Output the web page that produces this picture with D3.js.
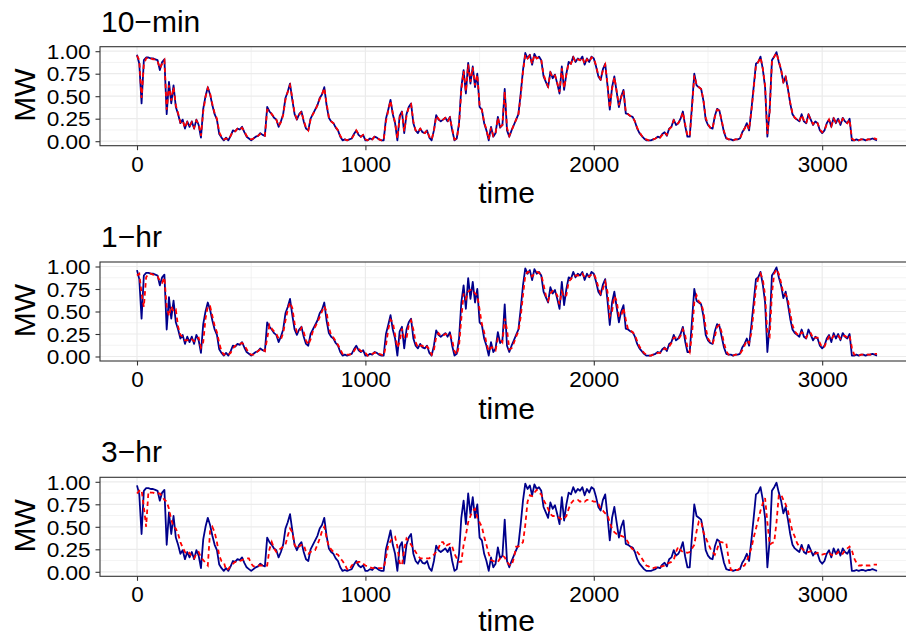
<!DOCTYPE html>
<html>
<head>
<meta charset="utf-8">
<script src="https://cdn.jsdelivr.net/npm/d3@7"></script>
<style>
  body { margin: 0; background: #fff; }
  svg { display: block; }
  text { font-family: "Liberation Sans", Arial, sans-serif; fill: #000; }
</style>
</head>
<body>
<svg width="906" height="637"></svg>
<script>
// power readings, sampled every 10 time steps off the picture
const step = 10;

const actual = [
  0.96,0.86,0.42,0.90,0.93,0.93,0.92,0.92,0.91,0.90,
  0.79,0.88,0.91,0.30,0.66,0.42,0.62,0.38,0.30,0.20,
  0.24,0.14,0.22,0.16,0.22,0.14,0.24,0.18,0.04,0.36,
  0.50,0.60,0.52,0.40,0.30,0.24,0.08,0.04,0.01,0.04,
  0.01,0.06,0.12,0.11,0.14,0.13,0.16,0.10,0.05,0.03,
  0.01,0.03,0.05,0.06,0.09,0.07,0.06,0.38,0.33,0.30,
  0.26,0.24,0.16,0.22,0.30,0.48,0.55,0.64,0.46,0.30,
  0.24,0.30,0.33,0.22,0.14,0.12,0.25,0.30,0.35,0.40,
  0.48,0.52,0.60,0.40,0.26,0.22,0.20,0.15,0.12,0.05,
  0.01,0.02,0.01,0.02,0.03,0.08,0.12,0.07,0.05,0.07,
  0.01,0.01,0.03,0.02,0.05,0.04,0.02,0.01,0.01,0.25,
  0.35,0.46,0.30,0.20,0.01,0.28,0.33,0.09,0.30,0.38,
  0.42,0.20,0.12,0.09,0.14,0.10,0.09,0.12,0.04,0.01,
  0.12,0.29,0.24,0.22,0.24,0.26,0.22,0.27,0.12,0.01,
  0.03,0.20,0.60,0.79,0.53,0.87,0.64,0.83,0.60,0.75,
  0.38,0.35,0.20,0.12,0.01,0.16,0.05,0.09,0.27,0.15,
  0.18,0.58,0.12,0.05,0.12,0.18,0.24,0.30,0.53,0.79,
  0.98,0.92,0.96,0.85,0.97,0.92,0.94,0.90,0.72,0.66,
  0.60,0.77,0.70,0.74,0.64,0.53,0.83,0.57,0.75,0.88,
  0.86,0.94,0.88,0.92,0.90,0.94,0.85,0.92,0.88,0.94,
  0.92,0.83,0.72,0.68,0.80,0.86,0.62,0.35,0.60,0.72,
  0.55,0.38,0.50,0.57,0.31,0.30,0.28,0.27,0.22,0.14,
  0.09,0.06,0.03,0.01,0.01,0.01,0.02,0.03,0.05,0.04,
  0.08,0.10,0.06,0.14,0.16,0.24,0.18,0.20,0.25,0.33,
  0.17,0.05,0.05,0.40,0.75,0.62,0.60,0.58,0.45,0.24,
  0.18,0.15,0.14,0.28,0.36,0.34,0.22,0.10,0.03,0.02,
  0.02,0.01,0.02,0.02,0.03,0.10,0.14,0.20,0.12,0.35,
  0.60,0.86,0.88,0.94,0.80,0.60,0.05,0.35,0.90,0.94,
  0.99,0.88,0.79,0.65,0.72,0.58,0.42,0.30,0.26,0.24,
  0.22,0.30,0.22,0.20,0.30,0.24,0.18,0.22,0.20,0.12,
  0.09,0.12,0.20,0.24,0.16,0.26,0.20,0.25,0.18,0.26,
  0.22,0.20,0.25,0.01,0.01,0.02,0.01,0.02,0.02,0.01,
  0.02,0.02,0.03,0.02,0.01
];

const fc10min = [
  0.95,0.90,0.48,0.85,0.92,0.93,0.92,0.91,0.91,0.89,
  0.81,0.86,0.90,0.35,0.62,0.45,0.60,0.40,0.31,0.21,
  0.23,0.15,0.21,0.17,0.21,0.15,0.23,0.19,0.06,0.33,
  0.49,0.59,0.53,0.41,0.31,0.25,0.10,0.05,0.02,0.03,
  0.02,0.06,0.11,0.11,0.14,0.13,0.15,0.11,0.06,0.03,
  0.02,0.03,0.05,0.06,0.08,0.07,0.06,0.35,0.34,0.30,
  0.27,0.24,0.17,0.21,0.29,0.46,0.55,0.62,0.48,0.31,
  0.25,0.29,0.33,0.23,0.15,0.12,0.24,0.30,0.34,0.40,
  0.47,0.52,0.59,0.42,0.27,0.22,0.20,0.16,0.12,0.06,
  0.02,0.02,0.01,0.02,0.03,0.07,0.12,0.08,0.05,0.07,
  0.02,0.01,0.03,0.02,0.05,0.04,0.02,0.01,0.01,0.22,
  0.34,0.45,0.31,0.21,0.03,0.26,0.33,0.11,0.28,0.38,
  0.41,0.22,0.12,0.10,0.14,0.10,0.09,0.12,0.05,0.02,
  0.11,0.28,0.25,0.22,0.24,0.26,0.22,0.26,0.14,0.02,
  0.03,0.18,0.56,0.78,0.55,0.85,0.66,0.82,0.62,0.74,
  0.40,0.35,0.21,0.13,0.02,0.15,0.06,0.09,0.26,0.16,
  0.18,0.55,0.15,0.06,0.12,0.18,0.24,0.30,0.50,0.77,
  0.96,0.92,0.95,0.86,0.96,0.92,0.93,0.90,0.74,0.67,
  0.61,0.76,0.71,0.73,0.65,0.55,0.81,0.59,0.74,0.87,
  0.86,0.93,0.88,0.91,0.90,0.93,0.86,0.91,0.88,0.93,
  0.92,0.84,0.73,0.69,0.79,0.85,0.64,0.37,0.58,0.71,
  0.56,0.40,0.49,0.56,0.33,0.30,0.28,0.27,0.22,0.15,
  0.10,0.06,0.03,0.02,0.01,0.01,0.02,0.03,0.05,0.04,
  0.07,0.10,0.07,0.13,0.16,0.23,0.19,0.20,0.24,0.32,
  0.19,0.06,0.06,0.36,0.73,0.63,0.60,0.58,0.46,0.26,
  0.19,0.15,0.14,0.27,0.35,0.34,0.23,0.11,0.04,0.02,
  0.02,0.01,0.02,0.02,0.03,0.09,0.14,0.19,0.13,0.33,
  0.58,0.84,0.88,0.93,0.81,0.62,0.08,0.32,0.88,0.94,
  0.98,0.89,0.80,0.66,0.71,0.59,0.43,0.31,0.26,0.24,
  0.22,0.29,0.23,0.20,0.29,0.24,0.19,0.22,0.20,0.13,
  0.10,0.12,0.19,0.24,0.17,0.25,0.21,0.24,0.19,0.25,
  0.22,0.20,0.24,0.03,0.01,0.02,0.01,0.02,0.02,0.01,
  0.02,0.02,0.03,0.03,0.02
];

const fc1hr = [
  0.90,0.92,0.70,0.55,0.88,0.92,0.92,0.91,0.90,0.89,
  0.84,0.82,0.88,0.55,0.45,0.56,0.50,0.52,0.33,0.24,
  0.22,0.18,0.18,0.20,0.19,0.17,0.20,0.21,0.10,0.16,
  0.42,0.56,0.56,0.45,0.34,0.27,0.15,0.06,0.02,0.03,
  0.02,0.04,0.09,0.12,0.13,0.14,0.15,0.13,0.08,0.04,
  0.02,0.02,0.04,0.06,0.08,0.08,0.06,0.20,0.35,0.31,
  0.28,0.25,0.20,0.19,0.26,0.40,0.52,0.60,0.54,0.37,
  0.27,0.27,0.32,0.27,0.18,0.13,0.19,0.28,0.33,0.38,
  0.44,0.50,0.56,0.50,0.32,0.24,0.21,0.17,0.13,0.08,
  0.03,0.02,0.02,0.02,0.03,0.06,0.10,0.09,0.06,0.06,
  0.04,0.01,0.02,0.03,0.04,0.05,0.03,0.02,0.01,0.12,
  0.30,0.41,0.38,0.24,0.10,0.16,0.31,0.20,0.20,0.35,
  0.40,0.30,0.16,0.10,0.12,0.12,0.09,0.11,0.08,0.02,
  0.07,0.22,0.26,0.23,0.23,0.25,0.24,0.25,0.18,0.06,
  0.02,0.12,0.42,0.70,0.64,0.72,0.74,0.74,0.70,0.68,
  0.52,0.36,0.27,0.15,0.06,0.10,0.10,0.07,0.20,0.20,
  0.16,0.42,0.30,0.08,0.09,0.15,0.22,0.28,0.44,0.68,
  0.90,0.94,0.94,0.89,0.92,0.94,0.93,0.91,0.80,0.68,
  0.62,0.70,0.73,0.72,0.68,0.58,0.72,0.66,0.68,0.83,
  0.86,0.90,0.90,0.90,0.90,0.92,0.88,0.89,0.89,0.91,
  0.92,0.86,0.77,0.70,0.75,0.83,0.72,0.45,0.50,0.67,
  0.62,0.45,0.45,0.54,0.41,0.30,0.29,0.27,0.24,0.17,
  0.11,0.07,0.04,0.02,0.01,0.01,0.02,0.03,0.04,0.04,
  0.06,0.09,0.08,0.11,0.15,0.21,0.21,0.19,0.23,0.30,
  0.24,0.10,0.05,0.24,0.60,0.68,0.61,0.59,0.50,0.32,
  0.20,0.16,0.14,0.22,0.33,0.35,0.27,0.15,0.06,0.02,
  0.02,0.01,0.02,0.02,0.03,0.07,0.12,0.18,0.15,0.26,
  0.50,0.76,0.87,0.92,0.86,0.68,0.25,0.22,0.70,0.92,
  0.97,0.92,0.82,0.70,0.69,0.63,0.48,0.35,0.28,0.25,
  0.23,0.27,0.25,0.21,0.26,0.26,0.20,0.21,0.21,0.15,
  0.10,0.11,0.17,0.22,0.19,0.23,0.22,0.23,0.20,0.23,
  0.23,0.21,0.23,0.10,0.02,0.02,0.01,0.02,0.02,0.02,
  0.02,0.02,0.03,0.03,0.03
];

const fc3hr = [
  0.87,0.90,0.91,0.72,0.50,0.89,0.88,0.88,0.87,0.87,
  0.87,0.84,0.80,0.78,0.70,0.58,0.50,0.48,0.42,0.33,
  0.27,0.22,0.19,0.21,0.17,0.15,0.20,0.22,0.16,0.13,
  0.10,0.07,0.45,0.50,0.44,0.33,0.18,0.12,0.11,0.02,
  0.03,0.07,0.09,0.11,0.11,0.12,0.13,0.14,0.15,0.15,
  0.09,0.06,0.06,0.07,0.07,0.07,0.07,0.07,0.25,0.33,
  0.26,0.22,0.24,0.26,0.28,0.30,0.40,0.48,0.44,0.30,
  0.26,0.28,0.30,0.30,0.22,0.20,0.22,0.24,0.24,0.30,
  0.37,0.45,0.50,0.38,0.28,0.25,0.22,0.20,0.19,0.15,
  0.12,0.08,0.03,0.02,0.07,0.09,0.10,0.11,0.11,0.09,
  0.07,0.06,0.05,0.04,0.04,0.04,0.04,0.04,0.04,0.15,
  0.30,0.34,0.38,0.39,0.28,0.10,0.07,0.25,0.37,0.34,
  0.30,0.26,0.22,0.18,0.15,0.15,0.15,0.15,0.15,0.17,
  0.19,0.22,0.26,0.33,0.33,0.28,0.30,0.31,0.28,0.20,
  0.15,0.11,0.11,0.30,0.41,0.55,0.62,0.68,0.70,0.60,
  0.55,0.50,0.39,0.30,0.20,0.13,0.12,0.11,0.11,0.15,
  0.18,0.16,0.11,0.08,0.07,0.15,0.28,0.28,0.30,0.33,
  0.52,0.78,0.85,0.84,0.88,0.91,0.88,0.86,0.80,0.75,
  0.70,0.64,0.62,0.62,0.61,0.60,0.58,0.59,0.62,0.70,
  0.76,0.79,0.80,0.80,0.78,0.79,0.78,0.80,0.80,0.79,
  0.78,0.78,0.76,0.70,0.68,0.65,0.63,0.55,0.48,0.44,
  0.42,0.41,0.40,0.39,0.37,0.33,0.28,0.25,0.24,0.22,
  0.19,0.15,0.11,0.07,0.06,0.04,0.04,0.05,0.05,0.06,
  0.06,0.07,0.09,0.10,0.11,0.13,0.22,0.28,0.24,0.22,
  0.22,0.21,0.22,0.26,0.30,0.45,0.56,0.56,0.44,0.38,
  0.32,0.26,0.22,0.19,0.25,0.33,0.33,0.32,0.32,0.15,
  0.02,0.02,0.02,0.02,0.04,0.06,0.07,0.12,0.20,0.26,
  0.38,0.48,0.58,0.68,0.76,0.82,0.55,0.30,0.32,0.33,
  0.55,0.85,0.86,0.80,0.75,0.68,0.55,0.45,0.39,0.32,
  0.28,0.26,0.24,0.22,0.22,0.23,0.22,0.20,0.21,0.19,
  0.19,0.20,0.20,0.21,0.19,0.18,0.19,0.22,0.19,0.20,
  0.24,0.26,0.28,0.24,0.15,0.10,0.07,0.07,0.08,0.07,
  0.07,0.07,0.08,0.08,0.08
];

const panelTitles = ['10\u2212min', '1\u2212hr', '3\u2212hr'];
const forecasts = [fc10min, fc1hr, fc3hr];
const xTicks = [0, 1000, 2000, 3000];
const xMinor = [500, 1500, 2500];
const yTicks = [0, 0.25, 0.5, 0.75, 1];
const yMinor = [0.125, 0.375, 0.625, 0.875];

const svg = d3.select('svg');
const W = 906, H = 637;
const left = 100, right = 914;
const panelH = 99, firstTop = 46.7, pitch = 215.3;
const tMax = (actual.length - 1) * step;

// ggplot-style 5% expansion on both axes
let x = d3.scaleLinear()
  .domain([-0.05 * tMax, 1.05 * tMax])
  .range([left, right]);

svg.append('defs').selectAll('clipPath')
  .data(panelTitles)
  .join('clipPath')
  .attr('id', (d, i) => 'clip' + i)
  .append('rect')
  .attr('x', left)
  .attr('y', (d, i) => firstTop + i * pitch)
  .attr('width', W - left)
  .attr('height', panelH);

panelTitles.forEach((title, i) => {
  let top = firstTop + i * pitch;
  let y = d3.scaleLinear().domain([-0.05, 1.05]).range([top + panelH, top]);
  let g = svg.append('g');

  // grid
  let grid = g.append('g').attr('clip-path', `url(#clip${i})`);
  grid.selectAll('.ymin').data(yMinor).join('line')
    .attr('x1', left).attr('x2', W)
    .attr('y1', d => y(d)).attr('y2', d => y(d))
    .attr('stroke', '#ebebeb').attr('stroke-width', 0.6);
  grid.selectAll('.xmin').data(xMinor).join('line')
    .attr('x1', d => x(d)).attr('x2', d => x(d))
    .attr('y1', top).attr('y2', top + panelH)
    .attr('stroke', '#ebebeb').attr('stroke-width', 0.6);
  grid.selectAll('.ymaj').data(yTicks).join('line')
    .attr('x1', left).attr('x2', W)
    .attr('y1', d => y(d)).attr('y2', d => y(d))
    .attr('stroke', '#ebebeb').attr('stroke-width', 1.2);
  grid.selectAll('.xmaj').data(xTicks).join('line')
    .attr('x1', d => x(d)).attr('x2', d => x(d))
    .attr('y1', top).attr('y2', top + panelH)
    .attr('stroke', '#ebebeb').attr('stroke-width', 1.2);

  // actual (blue) under forecast (red dashed)
  let line = d3.line().x((d, j) => x(j * step)).y(d => y(d));
  let plot = g.append('g').attr('clip-path', `url(#clip${i})`);
  plot.append('path')
    .attr('d', line(actual))
    .attr('fill', 'none')
    .attr('stroke', '#00008b')
    .attr('stroke-width', 1.8)
    .attr('stroke-linejoin', 'round');
  plot.append('path')
    .attr('d', line(forecasts[i]))
    .attr('fill', 'none')
    .attr('stroke', '#ff0000')
    .attr('stroke-width', 1.8)
    .attr('stroke-dasharray', '4.5,3.5');

  // border
  g.append('rect')
    .attr('x', left).attr('y', top)
    .attr('width', right - left).attr('height', panelH)
    .attr('fill', 'none').attr('stroke', '#333').attr('stroke-width', 1.1);

  // axes
  let xAxis = g.append('g')
    .attr('transform', `translate(0,${top + panelH})`)
    .call(d3.axisBottom(x).tickValues(xTicks).tickSize(4.5).tickPadding(5.5).tickFormat(d3.format('d')));
  let yAxis = g.append('g')
    .attr('transform', `translate(${left},0)`)
    .call(d3.axisLeft(y).tickValues(yTicks).tickSize(4.5).tickPadding(4.8).tickFormat(d3.format('.2f')));
  [xAxis, yAxis].forEach(a => {
    a.select('.domain').remove();
    a.selectAll('.tick line').attr('stroke', '#333').attr('stroke-width', 1.1);
    a.selectAll('.tick text').attr('fill', '#000').style('font-size', '22.5px')
      .style('font-family', '"Liberation Sans", Arial, sans-serif');
  });
  // y labels sit 22.5px apart: a bit smaller, stretched to the reference width
  yAxis.selectAll('.tick text')
    .style('font-size', '20px')
    .attr('dy', '0.36em')
    .attr('textLength', 44)
    .attr('lengthAdjust', 'spacingAndGlyphs');

  // titles
  g.append('text')
    .attr('x', 101).attr('y', top - 15)
    .style('font-size', '30px')
    .text(title);
  g.append('text')
    .attr('x', 506.5).attr('y', Math.min(top + panelH + 57.6, H - 6.5))
    .attr('text-anchor', 'middle')
    .style('font-size', '30px')
    .text('time');
  g.append('text')
    .attr('transform', `translate(35,${top + panelH / 2 - 1}) rotate(-90)`)
    .attr('text-anchor', 'middle')
    .style('font-size', '30px')
    .text('MW');
});
</script>
</body>
</html>
